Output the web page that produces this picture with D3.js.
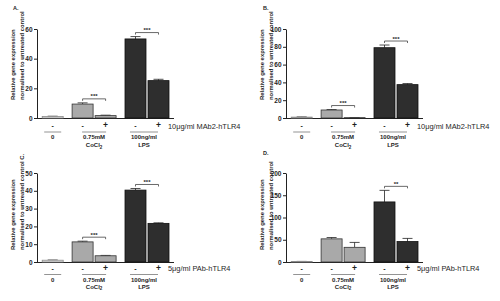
<!doctype html>
<html>
<head>
<meta charset="utf-8">
<title>TLR4 expression</title>
<script src="https://cdn.jsdelivr.net/npm/d3@7"></script>
<style>
    body { margin: 0; background: #fff; }
    svg text { font-family: "Liberation Sans", Arial, sans-serif; fill: #1e1e1e; }
</style>
</head>
<body>
<svg width="500" height="301"></svg>
<script>
// chart values
var panelNames = ["A.", "B.", "C.", "D."];
var antibodies = ["10\u03bcg/ml MAb2-hTLR4", "10\u03bcg/ml MAb2-hTLR4", "5\u03bcg/ml PAb-hTLR4", "5\u03bcg/ml PAb-hTLR4"];
var groupLine1 = ["0", "0.75mM", "100ng/ml"];
var groupLine2 = ["", "CoCl", "LPS"];
var barGroup = [0, 1, 1, 2, 2];
var barSign = ["-", "-", "+", "-", "+"];
var yMax = [60, 100, 50, 200];
var yStep = [20, 20, 10, 50];

var valuesA = [1, 9.4, 1.6, 53.3, 25.2];
var errorsA = [0.2, 0.8, 0.3, 1.6, 0.9];
var valuesB = [1, 9, 0.4, 79, 37.5];
var errorsB = [0.2, 0.5, 0.1, 3, 1.2];
var valuesC = [1, 11.3, 3.5, 40.4, 21.7];
var errorsC = [0.1, 0.4, 0.2, 0.9, 0.3];
var valuesD = [1, 52, 33, 135, 46];
var errorsD = [0.3, 3, 11, 26, 7];

var sigA = [[1, 2, "***"], [3, 4, "***"]];
var sigB = [[1, 2, "***"], [3, 4, "***"]];
var sigC = [[1, 2, "***"], [3, 4, "***"]];
var sigD = [[3, 4, "**"]];

var values = [valuesA, valuesB, valuesC, valuesD];
var errors = [errorsA, errorsB, errorsC, errorsD];
var sigs = [sigA, sigB, sigC, sigD];

var svg = d3.select("svg");
var offsets = [[0, 0], [249, 0], [0, 144], [249, 144]];
var fills = ["#e6e6e6", "#a9a9a9", "#2e2e2e"];
var strokes = ["#8a8a8a", "#333", "#111"];

var axisX = 37, base = 118, yTop = 29, bw = 21;

// slot position of each bar: groups separated by a wider gap
function slot(i) {
    var g = barGroup[i];
    return g * 1.3 + Math.max(0, g - 1) + (barSign[i] == "+" ? 1 : 0);
}
var x = d3.scaleLinear().domain([0, 4.6]).range([52.7, 158.5]);

panelNames.forEach(function (name, p) {
    var g = svg.append("g")
        .attr("transform", "translate(" + offsets[p][0] + "," + offsets[p][1] + ")");
    var y = d3.scaleLinear().domain([0, yMax[p]]).range([base, yTop]);
    var titleEnd = p < 2 ? 100 : 106;

    // y axis
    g.append("g")
        .attr("transform", "translate(" + axisX + ",0)")
        .call(d3.axisLeft(y)
            .tickValues(d3.range(0, yMax[p] + 1, yStep[p]))
            .tickSize(3).tickSizeOuter(0).tickPadding(1.5))
        .call(function (a) {
            a.select(".domain").attr("stroke", "#222").attr("stroke-width", 1);
            a.selectAll(".tick line").attr("stroke", "#222");
            a.selectAll(".tick text")
                .style("font-family", "'Liberation Sans', Arial, sans-serif")
                .style("font-size", "6.5px").style("font-weight", "bold")
                .attr("fill", "#1e1e1e");
        });

    // x axis line
    g.append("line")
        .attr("x1", axisX).attr("x2", x(4.6) + bw / 2 + 5)
        .attr("y1", base + 0.5).attr("y2", base + 0.5)
        .attr("stroke", "#222").attr("stroke-width", 1);

    // y title
    g.append("text")
        .attr("transform", "translate(14.6," + titleEnd + ") rotate(-90)")
        .style("font-size", "5.9px").style("font-weight", "bold")
        .text("Relative gene expression");
    g.append("text")
        .attr("transform", "translate(24.2," + titleEnd + ") rotate(-90)")
        .style("font-size", "5.9px").style("font-weight", "bold")
        .text("normalised to untreated control" + (p == 2 ? " " + name : ""));

    if (p != 2) {
        g.append("text").attr("x", p % 2 ? 14 : 13).attr("y", p < 2 ? 10 : 11)
            .style("font-size", "5.5px").style("font-weight", "bold")
            .text(name);
    }

    var vals = values[p], errs = errors[p];

    // error bars (upper only)
    vals.forEach(function (v, i) {
        var cx = x(slot(i)), y1 = y(v), y2 = y(v + errs[i]);
        g.append("line").attr("x1", cx).attr("x2", cx).attr("y1", y1).attr("y2", y2)
            .attr("stroke", "#222").attr("stroke-width", 0.8);
        g.append("line").attr("x1", cx - 5).attr("x2", cx + 5).attr("y1", y2).attr("y2", y2)
            .attr("stroke", "#222").attr("stroke-width", 0.8);
    });

    // bars
    g.selectAll(".bar")
        .data(vals)
        .enter().append("rect")
        .attr("class", "bar")
        .attr("x", function (d, i) { return x(slot(i)) - bw / 2; })
        .attr("y", function (d) { return y(d); })
        .attr("width", bw)
        .attr("height", function (d) { return base - y(d); })
        .attr("fill", function (d, i) { return fills[barGroup[i]]; })
        .attr("stroke", function (d, i) { return strokes[barGroup[i]]; })
        .attr("stroke-width", 0.8);

    // significance brackets
    sigs[p].forEach(function (s) {
        var xa = x(slot(s[0])), xb = x(slot(s[1]));
        var yy = Math.min(y(vals[s[0]] + errs[s[0]]), y(vals[s[1]] + errs[s[1]])) - 4;
        g.append("path")
            .attr("d", "M" + xa + "," + (yy + 2) + "V" + yy + "H" + xb + "V" + (yy + 2))
            .attr("fill", "none").attr("stroke", "#444").attr("stroke-width", 0.8);
        g.append("text").attr("x", (xa + xb) / 2).attr("y", yy - 0.5)
            .attr("text-anchor", "middle")
            .style("font-size", "6px").style("font-weight", "bold")
            .text(s[2]);
    });

    // +/- row
    var dy = p < 2 ? 0 : -1.5;
    barSign.forEach(function (sgn, i) {
        g.append("text").attr("x", x(slot(i))).attr("y", base + 10 + dy)
            .attr("text-anchor", "middle")
            .style("font-size", sgn == "+" ? "8.5px" : "7px").style("font-weight", "bold")
            .text(sgn);
    });

    g.append("text").attr("x", 168).attr("y", base + 10.5 + dy)
        .style("font-size", "7.4px")
        .text(antibodies[p]);

    // group labels with rule above
    groupLine1.forEach(function (lab, k) {
        var idx = barGroup.map(function (b, i) { return b == k ? i : -1; })
            .filter(function (i) { return i >= 0; });
        var cx = d3.mean(idx, function (i) { return x(slot(i)); }) - (k == 2 ? 3 : 0);
        var tx = g.append("text").attr("x", cx).attr("y", base + 21 + dy)
            .attr("text-anchor", "middle")
            .style("font-size", "6px").style("font-weight", "bold")
            .text(lab);
        var w = Math.max(17, tx.node().getComputedTextLength() + 2);
        g.append("line").attr("x1", cx - w / 2).attr("x2", cx + w / 2)
            .attr("y1", base + 14 + dy).attr("y2", base + 14 + dy)
            .attr("stroke", "#666").attr("stroke-width", 0.7);
        if (groupLine2[k]) {
            var t2 = g.append("text").attr("x", cx).attr("y", base + 29 + dy * 1.5)
                .attr("text-anchor", "middle")
                .style("font-size", "6px").style("font-weight", "bold")
                .text(groupLine2[k]);
            if (k == 1) t2.append("tspan").attr("dy", 1.5).style("font-size", "4.5px").text("2");
        }
    });
});
</script>
</body>
</html>
